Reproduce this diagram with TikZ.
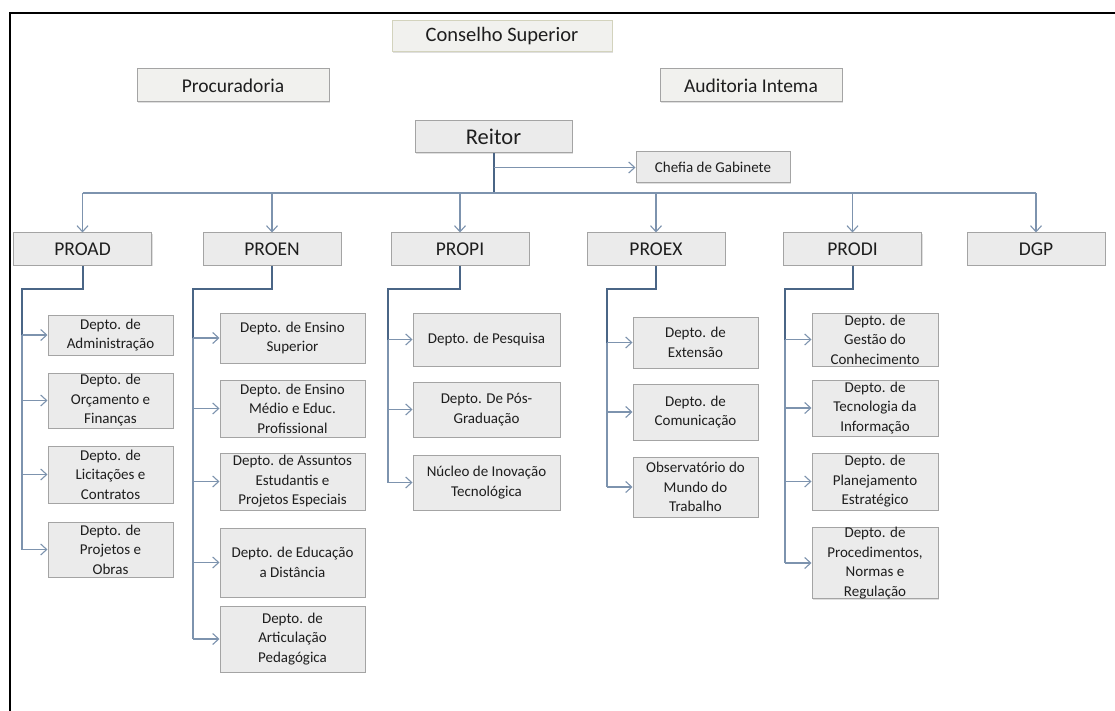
\documentclass[tikz,border=0pt]{standalone}
\usepackage{fontspec}
\setmainfont{Carlito}
\usetikzlibrary{arrows.meta,shadows}

\definecolor{boxfill}{HTML}{EBEBEB}
\definecolor{boxline}{HTML}{A4A4A4}
\definecolor{topfill}{HTML}{F1F1EE}
\definecolor{topline}{HTML}{D3D3BD}
\definecolor{txt}{HTML}{1E1E1E}
\definecolor{darklink}{HTML}{4A6586}
\definecolor{lightlink}{HTML}{7D93AE}

\tikzset{
  box/.style={draw=boxline, fill=boxfill, line width=1pt, inner sep=0pt,
    align=center, text=txt,
    drop shadow={shadow xshift=1.2pt, shadow yshift=-1.2pt, opacity=0.25, fill=gray}},
  topbox/.style={box, fill=topfill},
  headfont/.style={font=\fontsize{19.5}{23}\selectfont},
  subfont/.style={font=\fontsize{15}{19.5}\selectfont},
  lvl/.style={box, headfont, minimum width=138pt, minimum height=32pt},
  dept/.style={box, subfont},
  mainlink/.style={draw=darklink, line width=2pt},
  buslink/.style={draw=lightlink, line width=2pt},
  droplink/.style={draw=lightlink, line width=1.1pt, -{Straight Barb[length=6pt,width=11pt]}},
  elbow/.style={draw=darklink, line width=2pt},
  trunk/.style={draw=lightlink, line width=1.3pt},
  arr/.style={draw=lightlink, line width=1.1pt, -{Straight Barb[length=6pt,width=11pt]}},
}

\begin{document}
\begin{tikzpicture}[x=1pt, y=-1pt]
\useasboundingbox (0,0) rectangle (1115,711);

% outer frame (top and left edges)
\draw[line width=1.6pt] (10,711) -- (10,13) -- (1115,13);

% top level
\node[topbox, draw=topline, minimum width=220pt, minimum height=31pt,
      font=\fontsize{20.5}{24}\selectfont] (cons) at (502,36.5) {Conselho Superior};
\node[topbox, headfont, minimum width=192pt, minimum height=33pt] (proc) at (233,85.5) {Procuradoria};
\node[topbox, headfont, minimum width=182pt, minimum height=33pt] (aud) at (751,85.5) {Auditoria Intema};
\node[box, font=\fontsize{22.5}{26}\selectfont, minimum width=157pt, minimum height=32pt] (reitor) at (493.5,137) {Reitor};
\node[box, font=\fontsize{15}{18}\selectfont, minimum width=154pt, minimum height=31pt] (chefia) at (713,167.5) {Chefia de Gabinete};

% pro-rectorates
\node[lvl] (proad) at (82.5,249) {PROAD};
\node[lvl] (proen) at (272,249) {PROEN};
\node[lvl] (propi) at (460,249) {PROPI};
\node[lvl] (proex) at (656,249) {PROEX};
\node[lvl] (prodi) at (852.5,249) {PRODI};
\node[lvl] (dgp)   at (1036,249) {DGP};

% PROAD departments
\node[dept, minimum width=125pt, minimum height=40pt] (adm) at (110.5,335) {Depto. de\\Administração};
\node[dept, minimum width=125pt, minimum height=55pt] (orc) at (110.5,400.5) {Depto. de\\Orçamento e\\Finanças};
\node[dept, minimum width=125pt, minimum height=57pt] (lic) at (110.5,474.5) {Depto. de\\Licitações e\\Contratos};
\node[dept, minimum width=125pt, minimum height=55pt] (obr) at (110.5,549.5) {Depto. de\\Projetos e\\Obras};

% PROEN departments
\node[dept, minimum width=145pt, minimum height=50pt] (sup) at (292.5,338) {Depto. de Ensino\\Superior};
\node[dept, minimum width=145pt, minimum height=57pt] (med) at (292.5,408.5) {Depto. de Ensino\\Médio e Educ.\\Profissional};
\node[dept, minimum width=145pt, minimum height=57pt] (est) at (292.5,481.5) {Depto. de Assuntos\\Estudantis e\\Projetos Especiais};
\node[dept, minimum width=145pt, minimum height=69pt] (ead) at (292.5,562.5) {Depto. de Educação\\a Distância};
\node[dept, minimum width=145pt, minimum height=66pt] (ped) at (292.5,639) {Depto. de\\Articulação\\Pedagógica};

% PROPI departments
\node[dept, minimum width=147pt, minimum height=53pt] (pesq) at (486.5,339.5) {Depto. de Pesquisa};
\node[dept, minimum width=147pt, minimum height=55pt] (pos)  at (486.5,409.5) {Depto. De Pós-\\Graduação};
\node[dept, minimum width=147pt, minimum height=55pt] (nit)  at (486.5,482.5) {Núcleo de Inovação\\Tecnológica};

% PROEX departments
\node[dept, minimum width=125pt, minimum height=51pt] (ext) at (695.5,342.5) {Depto. de\\Extensão};
\node[dept, minimum width=125pt, minimum height=56pt] (com) at (695.5,412) {Depto. de\\Comunicação};
\node[dept, minimum width=125pt, minimum height=60pt] (obs) at (695.5,487) {Observatório do\\Mundo do\\Trabalho};

% PRODI departments
\node[dept, minimum width=126pt, minimum height=53pt] (ges) at (875,339.5) {Depto. de\\Gestão do\\Conhecimento};
\node[dept, minimum width=126pt, minimum height=56pt] (tec) at (875,408) {Depto. de\\Tecnologia da\\Informação};
\node[dept, minimum width=126pt, minimum height=57pt] (pla) at (875,481.5) {Depto. de\\Planejamento\\Estratégico};
\node[dept, minimum width=126pt, minimum height=70pt] (reg) at (875,563) {Depto. de\\Procedimentos,\\Normas e\\Regulação};

% rector links
\coordinate (hub) at (493.5,193);
\draw[mainlink] (reitor.south) -- (hub);
\draw[arr] (reitor.south |- chefia.west) -- (chefia.west);
\draw[buslink] (proad.north |- hub) -- (dgp.north |- hub);
\foreach \n in {proad,proen,propi,proex,prodi,dgp}
  \draw[droplink] (\n.north |- hub) -- (\n.north);

% department trunks
\coordinate (tA) at (22,289);
\coordinate (tE) at (193,289);
\coordinate (tP) at (388,289);
\coordinate (tX) at (607,289);
\coordinate (tD) at (785,289);

\draw[elbow] (proad.south) |- (tA) -- (tA |- adm.west);
\draw[trunk] (tA |- adm.west) -- (tA |- obr.west);
\foreach \n in {adm,orc,lic,obr} \draw[arr] (tA |- \n.west) -- (\n.west);

\draw[elbow] (proen.south) |- (tE) -- (tE |- sup.west);
\draw[trunk] (tE |- sup.west) -- (tE |- ped.west);
\foreach \n in {sup,med,est,ead,ped} \draw[arr] (tE |- \n.west) -- (\n.west);

\draw[elbow] (propi.south) |- (tP) -- (tP |- pesq.west);
\draw[trunk] (tP |- pesq.west) -- (tP |- nit.west);
\foreach \n in {pesq,pos,nit} \draw[arr] (tP |- \n.west) -- (\n.west);

\draw[elbow] (proex.south) |- (tX) -- (tX |- ext.west);
\draw[trunk] (tX |- ext.west) -- (tX |- obs.west);
\foreach \n in {ext,com,obs} \draw[arr] (tX |- \n.west) -- (\n.west);

\draw[elbow] (prodi.south) |- (tD) -- (tD |- ges.west);
\draw[trunk] (tD |- ges.west) -- (tD |- reg.west);
\foreach \n in {ges,tec,pla,reg} \draw[arr] (tD |- \n.west) -- (\n.west);
\end{tikzpicture}
\end{document}
